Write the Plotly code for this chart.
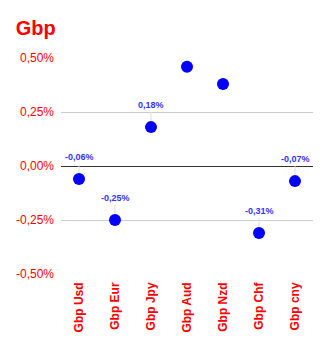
import plotly.graph_objects as go

categories = ["Gbp Usd", "Gbp Eur", "Gbp Jpy", "Gbp Aud", "Gbp Nzd", "Gbp Chf", "Gbp cny"]
values = [-0.06, -0.25, 0.18, 0.46, 0.38, -0.31, -0.07]
show_label = [True, True, True, False, False, True, True]
tick_vals = [-0.5, -0.25, 0, 0.25, 0.5]
tick_text = ["-0,50%", "-0,25%", "0,00%", "0,25%", "0,50%"]

fig = go.Figure()
fig.add_trace(go.Scatter(
    x=categories, y=values, mode="markers",
    marker=dict(size=12, color="#0000ff"),
    hoverinfo="skip",
))

for c, v, s in zip(categories, values, show_label):
    if s:
        fig.add_annotation(
            x=c, y=v, xref="x", yref="y",
            text=("%.2f%%" % v).replace(".", ","),
            showarrow=True, arrowhead=0, arrowwidth=1, arrowcolor="#dddddd",
            ax=0, ay=-15, yanchor="bottom", standoff=6,
            font=dict(family="Liberation Sans, Arial", size=9, color="#3333ff", weight="bold"),
        )

fig.update_layout(
    width=329, height=344,
    margin=dict(l=61, r=16, t=58, b=70),
    paper_bgcolor="white", plot_bgcolor="white",
    showlegend=False,
    title=dict(text="<b>Gbp</b>", x=0.048, xanchor="left", y=0.918, yanchor="middle",
               font=dict(family="Liberation Sans, Arial", size=20, color="#ff0000")),
    xaxis=dict(
        tickangle=-90, showgrid=False, zeroline=False, showline=False,
        tickfont=dict(family="Liberation Sans, Arial", size=12, color="#ff0000", weight="bold"),
        range=[-0.5, 6.5], ticks="", ticklen=0, ticklabelstandoff=5,
    ),
    yaxis=dict(
        range=[-0.5, 0.5], tickvals=tick_vals, ticktext=tick_text,
        showgrid=True, gridcolor="#cccccc", gridwidth=1,
        zeroline=True, zerolinecolor="#333333", zerolinewidth=1,
        tickfont=dict(family="Liberation Sans, Arial", size=12, color="#ff0000"),
        ticks="", ticklabelstandoff=6,
    ),
)

fig.write_html("out.html")
